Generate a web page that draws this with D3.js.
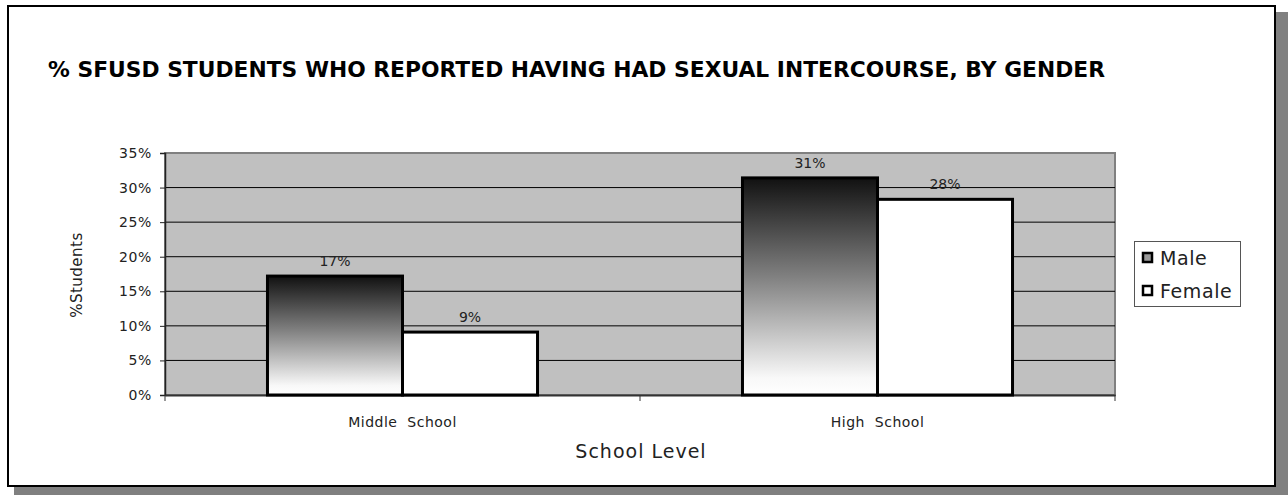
<!DOCTYPE html>
<html><head><meta charset="utf-8">
<script src="https://cdn.jsdelivr.net/npm/d3@7/dist/d3.min.js"></script>
<style>body{margin:0;background:#fff;}svg{display:block;font-family:"DejaVu Sans",Verdana,sans-serif;}</style>
</head><body>
<svg id="c" width="1288" height="495"></svg>
<script>
const categories = ["Middle  School", "High  School"];
const seriesNames = ["Male", "Female"];
const maleValues = [17.2, 31.4];
const femaleValues = [9.1, 28.3];
const yTicks = [0, 5, 10, 15, 20, 25, 30, 35];
const titleText = "% SFUSD STUDENTS WHO REPORTED HAVING HAD SEXUAL INTERCOURSE, BY GENDER";

const FF = '"DejaVu Sans",Verdana,sans-serif';
const svg = d3.select("#c");
// shadow + frame
svg.append("rect").attr("x", 14).attr("y", 12).attr("width", 1274).attr("height", 483).attr("fill", "#808080");
svg.append("rect").attr("x", 8).attr("y", 6).attr("width", 1267).attr("height", 480).attr("fill", "#fff").attr("stroke", "#000").attr("stroke-width", 2);

const defs = svg.append("defs");
const g = defs.append("linearGradient").attr("id", "mg").attr("x1", 0).attr("y1", 0).attr("x2", 0).attr("y2", 1);
g.append("stop").attr("offset", "0%").attr("stop-color", "#111");
g.append("stop").attr("offset", "45%").attr("stop-color", "#7f7f7f");
g.append("stop").attr("offset", "92%").attr("stop-color", "#f8f8f8");
g.append("stop").attr("offset", "100%").attr("stop-color", "#fff");

const L = 165, R = 1115, T = 153, B = 395;
const x0 = d3.scaleBand().domain(categories).range([L, R]).paddingInner(0).paddingOuter(0);
const x1 = d3.scaleBand().domain(seriesNames).range([0, x0.bandwidth()]).paddingInner(0).paddingOuter(0.759);
const y = d3.scaleLinear().domain([0, 35]).range([B, T]);

svg.append("rect").attr("x", L).attr("y", T).attr("width", R - L).attr("height", B - T).attr("fill", "#c0c0c0").attr("stroke", "#808080").attr("stroke-width", 2);

// gridlines
svg.append("g").selectAll("line").data(yTicks.filter(d => d > 0 && d < 35)).join("line")
  .attr("x1", L).attr("x2", R).attr("y1", d => y(d)).attr("y2", d => y(d)).attr("stroke", "#000").attr("stroke-width", 1);

// y axis
const ya = svg.append("g").attr("transform", `translate(${L},0)`)
  .call(d3.axisLeft(y).tickValues(yTicks).tickSize(5).tickPadding(8).tickFormat(d => d + "%"));
ya.select(".domain").attr("stroke", "#222").attr("stroke-width", 1.5);
ya.selectAll("line").attr("stroke", "#222");
ya.selectAll("text").attr("font-size", 14).attr("letter-spacing", 0.6).attr("fill", "#222").attr("font-family", FF);

// x axis
const xa = svg.append("g").attr("transform", `translate(0,${B})`)
  .call(d3.axisBottom(x0).tickSize(0).tickPadding(22));
xa.select(".domain").attr("stroke", "#333").attr("stroke-width", 2);
xa.selectAll("text").attr("font-size", 14).attr("letter-spacing", 0.5).attr("fill", "#222").attr("font-family", FF).style("white-space", "pre");
svg.append("g").selectAll("line").data([L, (L + R) / 2, R]).join("line")
  .attr("x1", d => d).attr("x2", d => d).attr("y1", B).attr("y2", B + 6).attr("stroke", "#333");

// bars
const rows = categories.map((c, i) => ({ c, vals: [maleValues[i], femaleValues[i]] }));
const grp = svg.append("g");
rows.forEach(r => {
  r.vals.forEach((v, j) => {
    const s = seriesNames[j];
    const bx = x0(r.c) + x1(s);
    grp.append("rect").attr("x", bx).attr("y", y(v)).attr("width", x1.bandwidth()).attr("height", B - y(v))
      .attr("fill", j === 0 ? "url(#mg)" : "#fff").attr("stroke", "#000").attr("stroke-width", 3);
    grp.append("text").attr("x", bx + x1.bandwidth() / 2).attr("y", y(v) - 10).attr("text-anchor", "middle")
      .attr("font-size", 14).attr("fill", "#222").text(Math.round(v) + "%");
  });
});

// title
svg.append("text").attr("x", 48).attr("y", 77).attr("font-size", 21).attr("font-weight", "bold")
  .attr("textLength", 1057).attr("lengthAdjust", "spacingAndGlyphs").attr("fill", "#000").text(titleText);

// axis titles
svg.append("text").attr("transform", "translate(82,275) rotate(-90)").attr("text-anchor", "middle").attr("font-size", 15).attr("letter-spacing", 0.5).attr("fill", "#222").text("%Students");
svg.append("text").attr("x", 641).attr("y", 458).attr("text-anchor", "middle").attr("font-size", 19).attr("letter-spacing", 1).attr("fill", "#222").text("School Level");

// legend
const lg = svg.append("g");
lg.append("rect").attr("x", 1134.5).attr("y", 241.5).attr("width", 106).attr("height", 65).attr("fill", "#fff").attr("stroke", "#555").attr("stroke-width", 1);
seriesNames.forEach((s, i) => {
  const yy = 258 + i * 33;
  lg.append("rect").attr("x", 1143).attr("y", yy - 5).attr("width", 9).attr("height", 9).attr("fill", i === 0 ? "#999" : "#fff").attr("stroke", "#000").attr("stroke-width", 2.5);
  lg.append("text").attr("x", 1160).attr("y", yy + 7).attr("font-size", 19).attr("letter-spacing", 0.6).attr("fill", "#222").text(s);
});
</script>
</body></html>
